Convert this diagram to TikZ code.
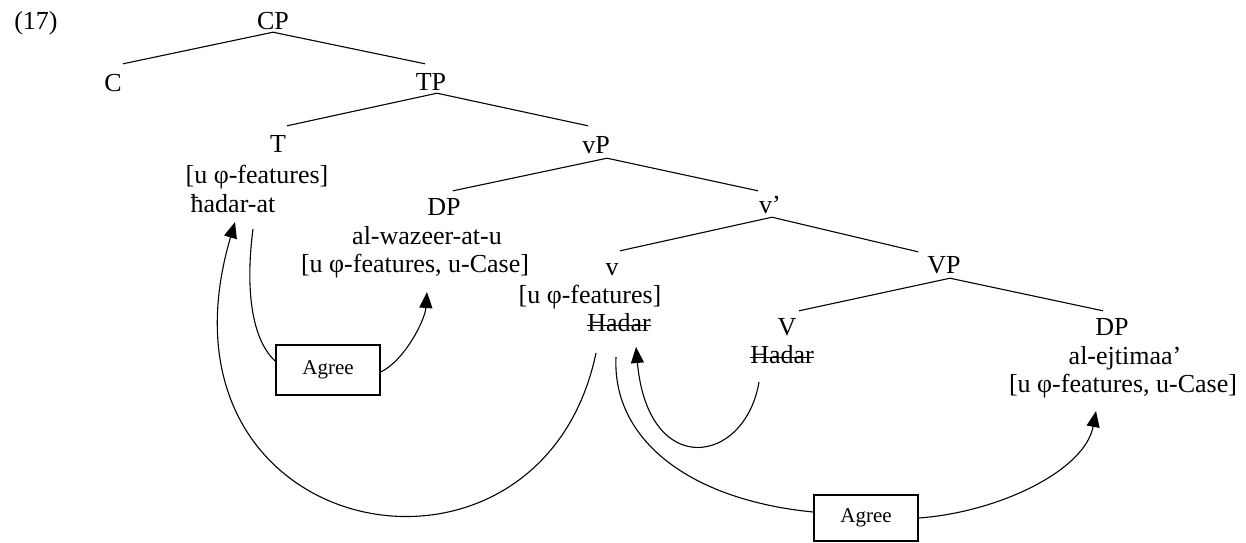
\documentclass[tikz,border=0pt]{standalone}
\usepackage{fontspec}
\setmainfont{Liberation Serif}
\usetikzlibrary{arrows.meta}
\newcommand\strk[1]{\setbox0\hbox{#1}\rlap{\rule[0.2em]{\wd0}{1.3pt}}\box0}
\begin{document}
\begin{tikzpicture}[x=1pt,y=-1pt,
  lab/.style={anchor=base, inner sep=0pt, text height=18pt, text depth=2pt, font=\fontsize{26}{30}\selectfont},
  br/.style={line width=1.1pt},
  arc/.style={line width=1.1pt},
  arr/.style={arc, -{Triangle[length=16pt,width=13pt]}},
  agree/.style={draw, line width=1.6pt, minimum width=104pt, minimum height=50pt, inner sep=0pt, font=\fontsize{21}{24}\selectfont}]
\useasboundingbox (0,0) rectangle (1246,542);
% labels
\node[lab] (ex) at (36,29) {(17)};
\node[lab] (CP) at (273,29) {CP};
\node[lab] (C) at (113,91) {C};
\node[lab] (TP) at (431,90) {TP};
\node[lab] (T) at (278,152) {T};
\node[lab] (Tf) at (257,183) {[u φ-features]};
\node[lab] (Th) at (233,212) {ħadar-at};
\node[lab] (vP) at (596,153) {vP};
\node[lab] (DPa) at (444,215) {DP};
\node[lab] (DPaw) at (427,244) {al-wazeer-at-u};
\node[lab] (DPaf) at (415,272) {[u φ-features, u-Case]};
\node[lab] (vbar) at (770,213) {v’};
\node[lab] (v) at (612,275) {v};
\node[lab] (vf) at (590,303) {[u φ-features]};
\node[lab] (vH) at (619,331) {\strk{Hadar}};
\node[lab] (VP) at (944,273) {VP};
\node[lab] (V) at (787,335) {V};
\node[lab] (VH) at (782,363) {\strk{Hadar}};
\node[lab] (DPb) at (1112,335) {DP};
\node[lab] (DPbe) at (1125,364) {al-ejtimaa’};
\node[lab] (DPbf) at (1123,392) {[u φ-features, u-Case]};
\node[agree] (A1) at (328,370) {Agree};
\node[agree, minimum height=46pt] (A2) at (866,518) {Agree};
% tree branches
\draw[br] ([yshift=-1pt]CP.south) -- ([shift={(10pt,9pt)}]C.north);
\draw[br] ([yshift=-1pt]CP.south) -- ([shift={(-6pt,8pt)}]TP.north);
\draw[br] ([shift={(6pt,-1pt)}]TP.south) -- ([shift={(9pt,8pt)}]T.north);
\draw[br] ([shift={(6pt,-1pt)}]TP.south) -- ([shift={(-8pt,9pt)}]vP.north);
\draw[br] ([shift={(11pt,-3pt)}]vP.south) -- ([shift={(9pt,6pt)}]DPa.north);
\draw[br] ([shift={(11pt,-3pt)}]vP.south) -- ([shift={(-12pt,4pt)}]vbar.north);
\draw[br] ([shift={(2pt,-2pt)}]vbar.south) -- ([shift={(8pt,6pt)}]v.north);
\draw[br] ([shift={(2pt,-2pt)}]vbar.south) -- ([shift={(-26pt,3pt)}]VP.north);
\draw[br] ([shift={(6pt,-3pt)}]VP.south) -- ([shift={(12pt,6pt)}]V.north);
\draw[br] ([shift={(6pt,-3pt)}]VP.south) -- ([shift={(-9pt,6pt)}]DPb.north);
% movement and agree arcs
\draw[arr] ([shift={(-23pt,-22pt)}]vH.base) .. controls (540,620) and (140,545) .. ([shift={(2pt,-10pt)}]Th.base);
\draw[arc] ([shift={(20pt,-17pt)}]Th.base) .. controls (245,290) and (252,340) .. ([yshift=9pt]A1.west);
\draw[arr] ([yshift=-2pt]A1.east) .. controls (405,360) and (425,320) .. ([shift={(12pt,-20pt)}]DPaf.base);
\draw[arr] ([shift={(-23pt,-19pt)}]VH.base) .. controls (745,465) and (648,480) .. ([shift={(17pt,-16pt)}]vH.base);
\draw[arc] ([shift={(-3pt,-26pt)}]vH.base) .. controls (612,440) and (690,500) .. ([yshift=6pt]A2.west);
\draw[arr] (A2.east) .. controls (1000,512) and (1085,470) .. ([shift={(-27pt,-19pt)}]DPbf.base);
\end{tikzpicture}
\end{document}
